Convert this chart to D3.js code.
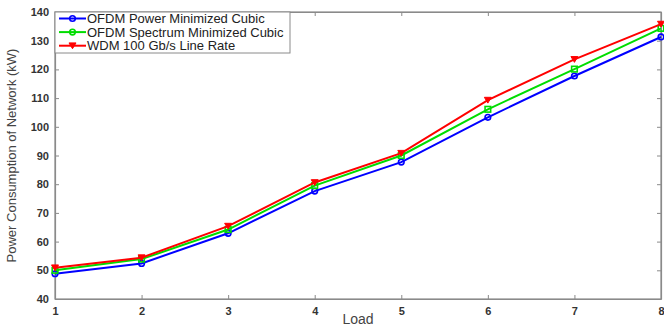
<!DOCTYPE html>
<html><head><meta charset="utf-8">
<script src="https://cdn.jsdelivr.net/npm/d3@7"></script>
<style>body{margin:0;background:#fff}svg{display:block}</style>
</head><body><svg id="c" width="664" height="328"></svg>
<script>
const loads = [1,2,3,4,5,6,7,8];
const powerMin = [48.8,52.4,62.9,77.6,87.7,103.3,117.7,131.3];
const spectrumMin = [50.0,53.9,64.2,79.5,90.0,106.1,120.1,134.3];
const wdm = [50.9,54.4,65.4,80.6,90.8,109.3,123.5,135.8];
const yTicks = [40,50,60,70,80,90,100,110,120,130,140];
const seriesNames = ["OFDM Power Minimized Cubic","OFDM Spectrum Minimized Cubic","WDM 100 Gb/s Line Rate"];
const seriesColors = ["#0000ff","#00dd00","#ff0000"];
const seriesMarkers = ["circle","square","triangle"];
const seriesData = [powerMin, spectrumMin, wdm];

const svg = d3.select("#c");
const L=55,R=661,T=12,B=299;
const x = d3.scaleLinear().domain([1,8]).range([L,R]);
const y = d3.scaleLinear().domain([40,140]).range([B,T]);
const axisCol="#8a8a8a", txtCol="#333";
const font="Arial, 'Liberation Sans', sans-serif";

svg.append("rect").attr("x",L).attr("y",T).attr("width",R-L).attr("height",B-T)
  .attr("fill","none").attr("stroke",axisCol).attr("stroke-width",1.2);

const tl=4;
const gx = svg.append("g").attr("transform",`translate(0,${B})`)
  .call(d3.axisBottom(x).tickValues(loads).tickFormat(d3.format("d")).tickSizeInner(-tl).tickSizeOuter(0).tickPadding(8));
const gxt = svg.append("g").attr("transform",`translate(0,${T})`)
  .call(d3.axisTop(x).tickValues(loads).tickFormat("").tickSizeInner(-tl).tickSizeOuter(0));
const gy = svg.append("g").attr("transform",`translate(${L},0)`)
  .call(d3.axisLeft(y).tickValues(yTicks).tickFormat(d3.format("d")).tickSizeInner(-tl).tickSizeOuter(0).tickPadding(6));
const gyr = svg.append("g").attr("transform",`translate(${R},0)`)
  .call(d3.axisRight(y).tickValues(yTicks).tickFormat("").tickSizeInner(-tl).tickSizeOuter(0));
[gx,gxt,gy,gyr].forEach(g=>{
  g.select(".domain").attr("stroke",axisCol).attr("stroke-width",1.2);
  g.selectAll(".tick line").attr("stroke",axisCol);
  g.selectAll("text").attr("fill",txtCol).attr("font-family",font).attr("font-size",11).attr("font-weight","bold");
});

const line = d3.line().x((d,i)=>x(loads[i])).y(d=>y(d));
function marker(g, type, cx, cy, col){
  if(type==="circle") g.append("circle").attr("cx",cx).attr("cy",cy).attr("r",2.8).attr("fill","none").attr("stroke",col).attr("stroke-width",1.6);
  else if(type==="square") g.append("rect").attr("x",cx-2.8).attr("y",cy-2.8).attr("width",5.6).attr("height",5.6).attr("fill","none").attr("stroke",col).attr("stroke-width",1.6);
  else g.append("path").attr("d",`M${cx-3.5},${cy-2.8}L${cx+3.5},${cy-2.8}L${cx},${cy+3}Z`).attr("fill",col).attr("stroke",col).attr("stroke-width",1);
}
seriesData.forEach((s,k)=>{
  svg.append("path").datum(s).attr("d",line).attr("fill","none").attr("stroke",seriesColors[k]).attr("stroke-width",2);
  const g=svg.append("g");
  s.forEach((v,i)=>marker(g,seriesMarkers[k],x(loads[i]),y(v),seriesColors[k]));
});

const lg = svg.append("g");
lg.append("rect").attr("x",L).attr("y",T).attr("width",235).attr("height",41).attr("fill","#fff").attr("stroke",axisCol).attr("stroke-width",1);
seriesNames.forEach((n,k)=>{
  const yy = T+6.5+k*13.6;
  lg.append("line").attr("x1",59).attr("x2",86).attr("y1",yy).attr("y2",yy).attr("stroke",seriesColors[k]).attr("stroke-width",2);
  marker(lg, k===1?"circle":seriesMarkers[k], 72.5, yy, seriesColors[k]);
  lg.append("text").attr("x",87).attr("y",yy).attr("dy","0.36em").text(n)
    .attr("font-family",font).attr("font-size",13).attr("fill","#222");
});

svg.append("text").attr("x",(L+R)/2).attr("y",324).attr("text-anchor","middle").text("Load")
  .attr("font-family",font).attr("font-size",14).attr("fill","#444");
svg.append("text").attr("transform",`translate(16,${(T+B)/2}) rotate(-90)`).attr("text-anchor","middle").text("Power Consumption of Network (kW)")
  .attr("font-family",font).attr("font-size",13).attr("fill","#444");
</script></body></html>
